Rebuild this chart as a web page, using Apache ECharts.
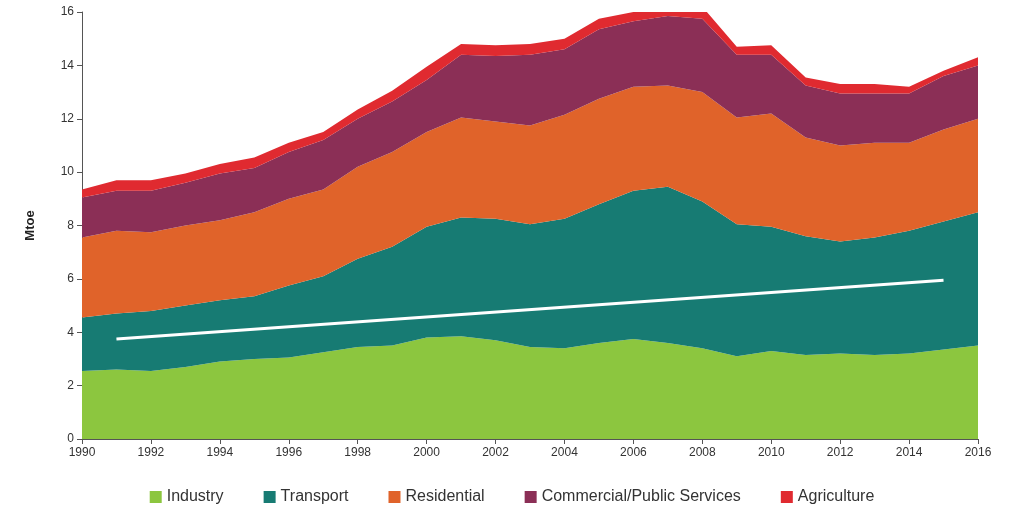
<!DOCTYPE html>
<html><head><meta charset="utf-8">
<script src="https://cdn.jsdelivr.net/npm/echarts@6/dist/echarts.min.js"></script>
<style>html,body{margin:0;padding:0;background:#fff}#c{width:1024px;height:512px}</style>
</head><body><div id="c"></div>
<script>
const years = ['1990','1991','1992','1993','1994','1995','1996','1997','1998','1999','2000','2001','2002','2003','2004','2005','2006','2007','2008','2009','2010','2011','2012','2013','2014','2015','2016'];
const industry = [2.55,2.6,2.55,2.7,2.9,3.0,3.05,3.25,3.45,3.5,3.8,3.85,3.7,3.45,3.4,3.6,3.75,3.6,3.4,3.1,3.3,3.15,3.2,3.15,3.2,3.35,3.5];
const transport = [2.0,2.1,2.25,2.3,2.3,2.35,2.7,2.85,3.3,3.7,4.15,4.45,4.55,4.6,4.85,5.2,5.55,5.85,5.5,4.95,4.65,4.45,4.2,4.4,4.6,4.8,5.0];
const residential = [3.0,3.1,2.95,3.0,3.0,3.15,3.25,3.25,3.45,3.55,3.55,3.75,3.65,3.7,3.9,3.95,3.9,3.8,4.1,4.0,4.25,3.7,3.6,3.55,3.3,3.45,3.5];
const commercial = [1.5,1.5,1.55,1.6,1.75,1.65,1.75,1.85,1.8,1.9,1.95,2.35,2.45,2.65,2.45,2.6,2.45,2.6,2.75,2.35,2.2,1.95,1.95,1.85,1.85,2.0,2.0];
const agriculture = [0.3,0.4,0.4,0.35,0.35,0.4,0.35,0.3,0.35,0.4,0.5,0.4,0.4,0.4,0.4,0.4,0.35,0.35,0.45,0.3,0.35,0.3,0.35,0.35,0.25,0.2,0.3];
const names = ['Industry','Transport','Residential','Commercial/Public Services','Agriculture'];
const colors = ['#8cc63f','#177b73','#e0632a','#8b2f56','#e02a30'];
const data = [industry,transport,residential,commercial,agriculture];

const chart = echarts.init(document.getElementById('c'));
const series = data.map((d,i)=>({
  name:names[i], type:'line', stack:'all', data:d, symbol:'none',
  lineStyle:{width:0}, areaStyle:{color:colors[i],opacity:1}, itemStyle:{color:colors[i]}
}));
series[1].markLine = {
  silent:true, symbol:['none','arrow'], symbolSize:[0,18],
  lineStyle:{color:'#fff',width:3,type:'solid'}, label:{show:false},
  data:[[{coord:['1991',3.75]},{coord:['2015',5.95]}]]
};
chart.setOption({
  animation:false,
  textStyle:{fontFamily:'Liberation Sans, Arial'},
  grid:{left:82,right:46,top:12,bottom:73},
  legend:{bottom:2,left:'center',itemWidth:12,itemHeight:12,itemGap:40,icon:'rect',
    textStyle:{fontSize:16,color:'#333'},data:names},
  xAxis:{type:'category',data:years,boundaryGap:false,
    axisLine:{lineStyle:{color:'#555'}},axisTick:{show:true,interval:1,lineStyle:{color:'#555'}},
    axisLabel:{interval:1,fontSize:12,color:'#333'}},
  yAxis:{type:'value',min:0,max:16,interval:2,name:'Mtoe',nameLocation:'middle',nameGap:45,
    nameTextStyle:{fontWeight:'bold',fontSize:13,color:'#222'},
    axisLine:{show:true,lineStyle:{color:'#555'}},axisTick:{show:true,lineStyle:{color:'#555'}},
    splitLine:{show:false},axisLabel:{fontSize:12,color:'#333'}},
  graphic:[
    {type:'text',x:595,y:287,rotation:0.068,style:{text:'Transport energy X 3',fill:'#fff',
      font:'bold 25px "Open Sans", sans-serif',textAlign:'center',textVerticalAlign:'middle'}},
    {type:'text',x:835,y:393,style:{text:'Ireland (SEAI)',fill:'#fff',font:'bold 13px "Open Sans", sans-serif'}}
  ],
  series
});
</script></body></html>
